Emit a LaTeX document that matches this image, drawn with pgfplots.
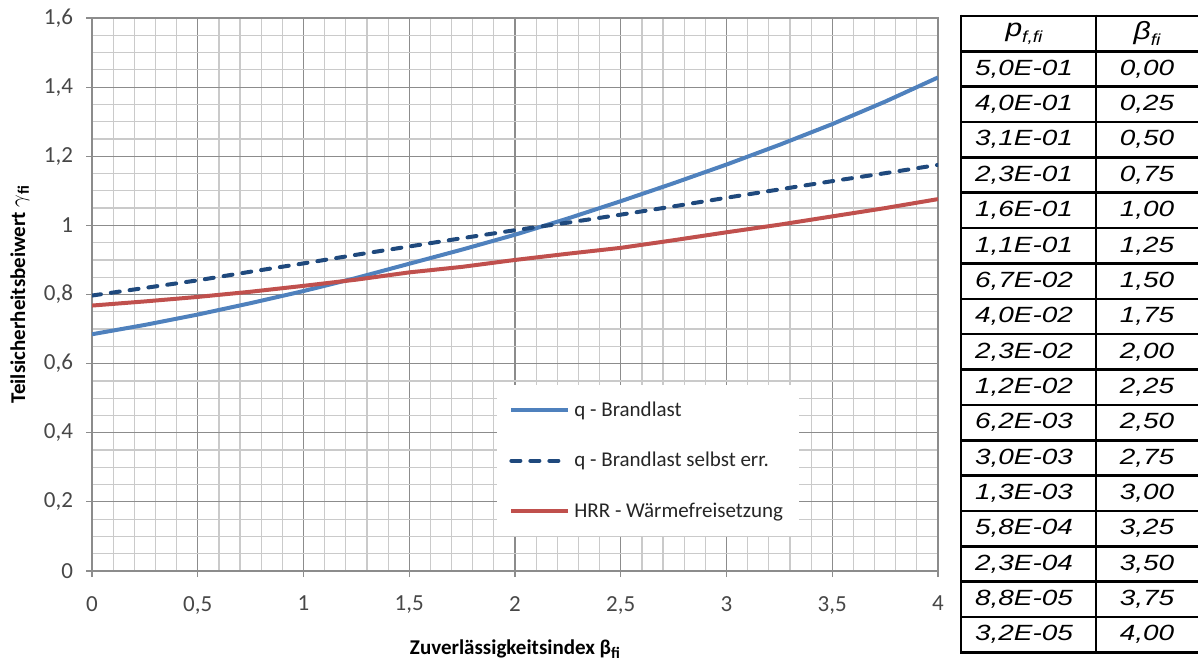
\documentclass[border=0pt]{standalone}
\usepackage{fontspec}
\setmainfont{Carlito}
\newfontfamily\arial{Liberation Sans}
\usepackage{graphicx}
\usepackage{pgfplots}
\pgfplotsset{compat=1.18}
\definecolor{exblue}{HTML}{4F81BD}
\definecolor{exdark}{HTML}{1F497D}
\definecolor{exred}{HTML}{C0504D}
\definecolor{majgrid}{HTML}{8C8C8C}
\definecolor{mingrid}{HTML}{CACACA}
\newcommand\trow[3]{%
  \node[font=\arial\itshape\fontsize{11}{12}\selectfont] at (512pt,{322pt-(#1+0.5)*17.675pt}) {\scalebox{1.27}[1]{#2}};%
  \node[font=\arial\itshape\fontsize{11}{12}\selectfont] at (573.5pt,{322pt-(#1+0.5)*17.675pt}) {\scalebox{1.27}[1]{#3}};%
}
\begin{document}
\begin{tikzpicture}
\path[use as bounding box] (0,0) rectangle (599pt,330pt);
\begin{axis}[
  at={(46pt,44.5pt)}, anchor=south west,
  scale only axis, width=423pt, height=276.5pt,
  xmin=0, xmax=4, ymin=0, ymax=1.6,
  xtick={0,0.5,1,1.5,2,2.5,3,3.5,4},
  ytick={0,0.2,0.4,0.6,0.8,1,1.2,1.4,1.6},
  minor x tick num=4, minor y tick num=3,
  grid=both,
  major grid style={majgrid, line width=0.6pt},
  minor grid style={mingrid, line width=0.6pt},
  axis line style={majgrid, line width=0.6pt},
  tick pos=left, tick align=outside,
  major tick length=3pt, minor tick length=0pt,
  tick style={majgrid, line width=0.6pt},
  /pgf/number format/use comma,
  /pgf/number format/assume math mode=true,
  ticklabel style={font=\fontsize{11.5}{13}\selectfont, text=black!72},
  yticklabel style={xshift=-3pt},
  xticklabel style={yshift=-6pt},
  xlabel={Zuverlässigkeitsindex β\raisebox{-0.35ex}{\fontsize{8}{9}\selectfont fi}},
  ylabel={Teilsicherheitsbeiwert \textmd{$\gamma$}\raisebox{-0.35ex}{\fontsize{8}{9}\selectfont fi}},
  xlabel style={at={([yshift=-39pt]axis description cs:0.5,0)}, anchor=center, font=\bfseries\fontsize{10.5}{12}\selectfont},
  ylabel style={at={([xshift=-36pt]axis description cs:0,0.5)}, anchor=center, font=\bfseries\fontsize{10.5}{12}\selectfont},
  legend style={at={(0.4787,0.3363)}, anchor=north west, draw=none, fill=white,
    font=\fontsize{10.5}{12.5}\selectfont, text=black!85, inner xsep=6pt, inner ysep=6pt, row sep=12.5pt},
  legend cell align=left,
  legend image code/.code={\draw[#1] (0pt,0pt) -- (28.5pt,0pt);},
]
\addplot[exblue, line width=2pt] coordinates {
(0,0.685) (0.25,0.712) (0.5,0.742) (0.75,0.775) (1.0,0.810) (1.25,0.848)
(1.5,0.889) (1.75,0.930) (2.0,0.973) (2.25,1.020) (2.5,1.070) (2.75,1.122)
(3.0,1.176) (3.25,1.233) (3.5,1.293) (3.75,1.358) (4.0,1.428)};
\addlegendentry{q - Brandlast}
\addplot[exdark, line width=2pt, line cap=round, dash pattern=on 4.5pt off 5pt] coordinates {
(0,0.797) (0.25,0.819) (0.5,0.841) (0.75,0.866) (1.0,0.890) (1.25,0.915)
(1.5,0.939) (1.75,0.963) (2.0,0.986) (2.25,1.008) (2.5,1.031) (2.75,1.055)
(3.0,1.080) (3.25,1.104) (3.5,1.128) (3.75,1.151) (4.0,1.175)};
\addlegendentry{q - Brandlast selbst err.}
\addplot[exred, line width=2pt] coordinates {
(0,0.768) (0.25,0.780) (0.5,0.793) (0.75,0.808) (1.0,0.825) (1.25,0.843)
(1.5,0.864) (1.75,0.880) (2.0,0.900) (2.25,0.918) (2.5,0.935) (2.75,0.957)
(3.0,0.980) (3.25,1.002) (3.5,1.026) (3.75,1.050) (4.0,1.076)};
\addlegendentry{HRR - Wärmefreisetzung}
\end{axis}
% table
\foreach \k in {0,...,18}{
  \draw[line width=1.3pt] ({480.5pt},{322pt-\k*17.675pt}) -- ({599pt},{322pt-\k*17.675pt});
}
\draw[line width=1.3pt] (480.5pt,322.65pt) -- (480.5pt,3.2pt);
\draw[line width=1.3pt] (548pt,322.65pt) -- (548pt,3.2pt);
\node[font=\arial\itshape\fontsize{12.5}{14}\selectfont] at (512pt,{322pt-0.5*17.675pt}) {\scalebox{1.2}[1]{p\raisebox{-0.45ex}{\fontsize{8}{9}\selectfont f,fi}}};
\node[font=\arial\itshape\fontsize{12.5}{14}\selectfont] at (573.5pt,{322pt-0.5*17.675pt}) {\scalebox{1.2}[1]{β\raisebox{-0.45ex}{\fontsize{8}{9}\selectfont fi}}};
\trow{1}{5,0E-01}{0,00}
\trow{2}{4,0E-01}{0,25}
\trow{3}{3,1E-01}{0,50}
\trow{4}{2,3E-01}{0,75}
\trow{5}{1,6E-01}{1,00}
\trow{6}{1,1E-01}{1,25}
\trow{7}{6,7E-02}{1,50}
\trow{8}{4,0E-02}{1,75}
\trow{9}{2,3E-02}{2,00}
\trow{10}{1,2E-02}{2,25}
\trow{11}{6,2E-03}{2,50}
\trow{12}{3,0E-03}{2,75}
\trow{13}{1,3E-03}{3,00}
\trow{14}{5,8E-04}{3,25}
\trow{15}{2,3E-04}{3,50}
\trow{16}{8,8E-05}{3,75}
\trow{17}{3,2E-05}{4,00}
\end{tikzpicture}
\end{document}
